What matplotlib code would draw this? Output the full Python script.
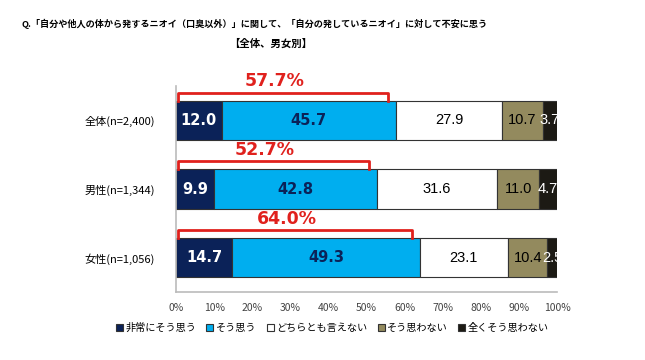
import numpy as np
import matplotlib
matplotlib.use("Agg")
import matplotlib.pyplot as plt
from matplotlib.patches import Patch

plt.rcParams['font.family'] = ['Noto Sans CJK JP', 'DejaVu Sans']

# data
groups = ['全体(n=2,400)', '男性(n=1,344)', '女性(n=1,056)']
series = ['非常にそう思う', 'そう思う', 'どちらとも言えない', 'そう思わない', '全くそう思わない']
very = [12.0, 9.9, 14.7]
agree = [45.7, 42.8, 49.3]
neutral = [27.9, 31.6, 23.1]
disagree = [10.7, 11.0, 10.4]
strong_dis = [3.7, 4.7, 2.5]
top2 = ['57.7%', '52.7%', '64.0%']

values = [very, agree, neutral, disagree, strong_dis]
colors = ['#0b2258', '#00aeef', '#ffffff', '#938a5e', '#1c1a14']
txt_colors = ['white', '#0b2258', 'black', 'black', 'white']
txt_weight = ['bold', 'bold', 'normal', 'normal', 'normal']

fig = plt.figure(figsize=(6.45, 3.6), dpi=100)
ax = fig.add_axes([0.2729, 0.1889, 0.5907, 0.5722])

y = np.arange(len(groups))
h = 0.57
left = np.zeros(len(groups))
for i, vals in enumerate(values):
    ax.barh(y, vals, left=left, height=h, color=colors[i],
            edgecolor='#333333', linewidth=0.8, label=series[i])
    for j, v in enumerate(vals):
        ax.text(left[j] + v / 2, y[j], f'{v:.1f}', ha='center', va='center',
                fontsize=10.5, color=txt_colors[i], fontweight=txt_weight[i],
                family=['DejaVu Sans'] if txt_weight[i] == 'bold' else ['Liberation Sans'])
    left += np.array(vals)

# red brackets over top-2 box
red = '#e0211d'
for j in range(len(groups)):
    tot = very[j] + agree[j]
    ytop = y[j] - h / 2
    yb = ytop - 0.12
    ax.plot([0.5, 0.5, tot - 2, tot - 2], [ytop, yb, yb, ytop], color=red,
            linewidth=2, solid_joinstyle='round', clip_on=False)
    ax.text((tot - 2) / 2 - 2, yb - 0.03, top2[j], ha='center', va='bottom',
            fontsize=12.5, color=red, fontweight='bold', family=['DejaVu Sans'])

ax.set_xlim(0, 100)
ax.set_ylim(2.5, -0.5)
ax.set_yticks(y)
ax.set_yticklabels(groups, fontsize=8)
ax.set_xticks(np.arange(0, 101, 10))
ax.set_xticklabels([f'{t}%' for t in range(0, 101, 10)], fontsize=7.5, color='#444444')
ax.tick_params(length=0)
ax.tick_params(axis='x', pad=8)
ax.tick_params(axis='y', pad=15)
for s in ['top', 'right']:
    ax.spines[s].set_visible(False)
for s in ['left', 'bottom']:
    ax.spines[s].set_color('#bbbbbb')
    ax.spines[s].set_linewidth(1.2)

fig.text(0.394, 0.933, 'Q.「自分や他人の体から発するニオイ（口臭以外）」に関して、「自分の発しているニオイ」に対して不安に思う',
         ha='center', va='center', fontsize=6.6, fontweight='bold')
fig.text(0.419, 0.878, '【全体、男女別】', ha='center', va='center', fontsize=7.5, fontweight='bold')

handles = [Patch(facecolor=colors[i], edgecolor='#333333', linewidth=0.8) for i in range(5)]
fig.legend(handles, series, loc='center', bbox_to_anchor=(0.515, 0.088), ncol=5,
           frameon=False, fontsize=7.3, handlelength=0.7, handleheight=0.7,
           handletextpad=0.25, columnspacing=1.0)

fig.savefig('out.png', dpi=100)
